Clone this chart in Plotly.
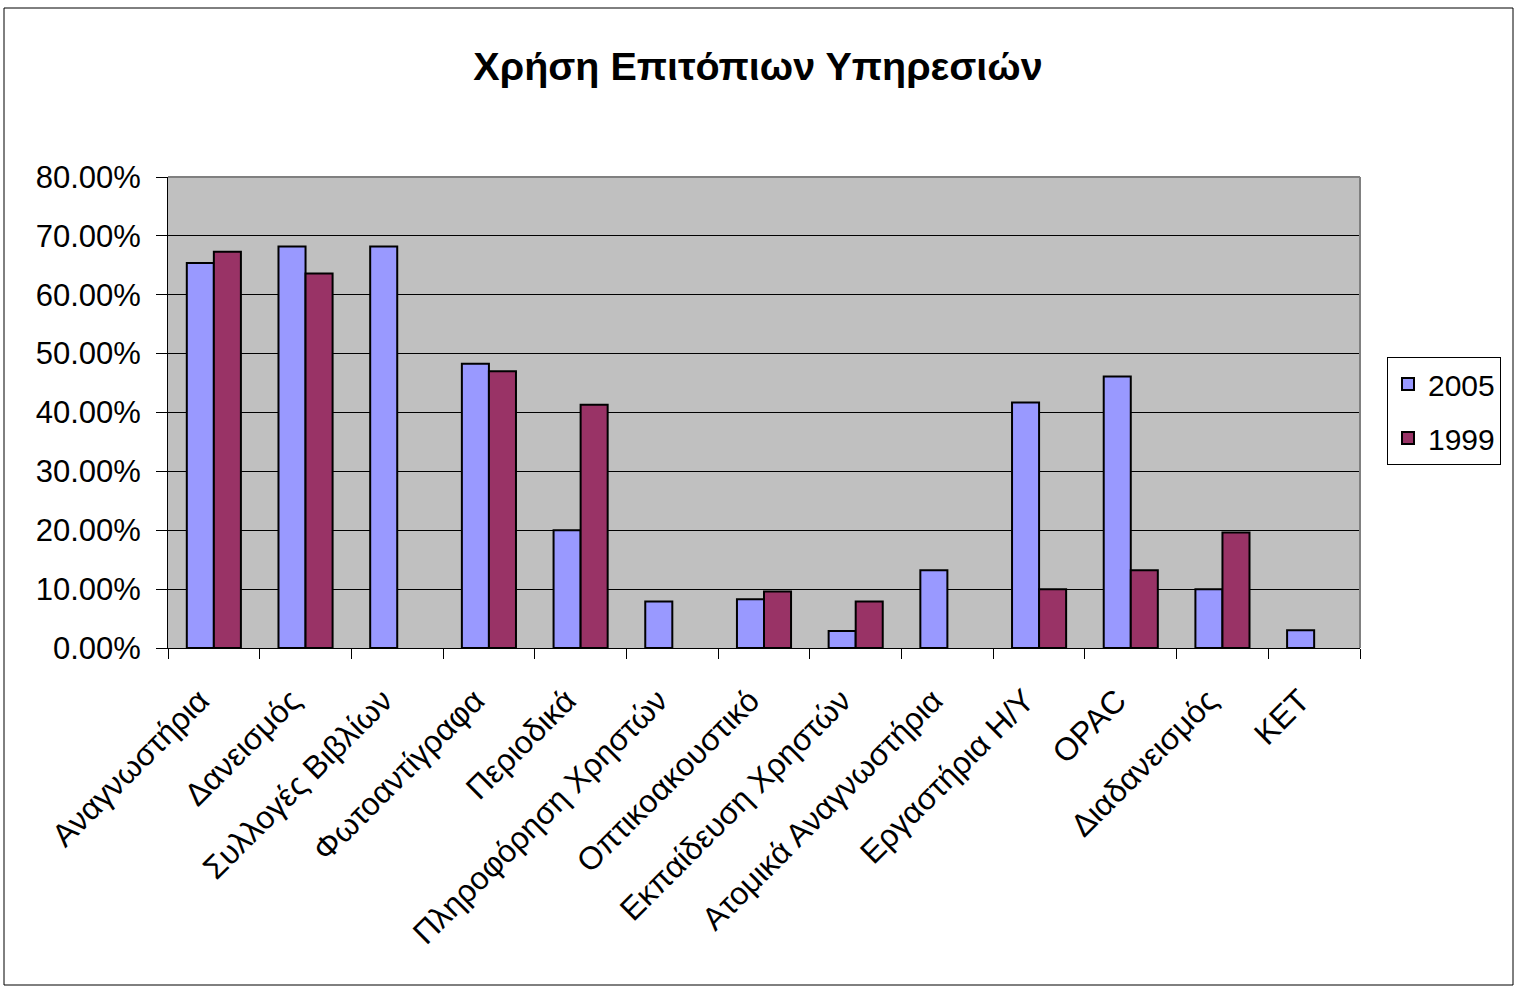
import plotly.graph_objects as go

categories = ["Αναγνωστήρια", "Δανεισμός", "Συλλογές Βιβλίων", "Φωτοαντίγραφα", "Περιοδικά",
              "Πληροφόρηση Χρηστών", "Οπτικοακουστικό", "Εκπαίδευση Χρηστών",
              "Ατομικά Αναγνωστήρια", "Εργαστήρια Η/Υ", "OPAC", "Διαδανεισμός", "ΚΕΤ"]
values_2005 = [0.654, 0.682, 0.682, 0.483, 0.200, 0.079, 0.083, 0.029, 0.132, 0.417, 0.461, 0.100, 0.030]
values_1999 = [0.673, 0.636, None, 0.470, 0.413, None, 0.096, 0.079, None, 0.100, 0.132, 0.196, None]
y_ticks = [0, 0.1, 0.2, 0.3, 0.4, 0.5, 0.6, 0.7, 0.8]
title_text = "Χρήση Επιτόπιων Υπηρεσιών"

FONT = "Liberation Sans, Arial, sans-serif"
W, H = 1514, 986
L, R, T, B = 168, 154, 177, 338
pw, ph = W - L - R, H - T - B

fig = go.Figure()
fig.add_trace(go.Bar(x=categories, y=values_2005, name="2005", legendgroup="a",
                     marker=dict(color="#9999FF", line=dict(color="black", width=2))))
fig.add_trace(go.Bar(x=categories, y=values_1999, name="1999", legendgroup="b",
                     marker=dict(color="#993366", line=dict(color="black", width=2))))

def px2x(px):
    return (px - L) / pw

def px2y(py):
    return (H - B - py) / ph

shapes = [
    # outer chart border
    dict(type="rect", xref="paper", yref="paper", x0=px2x(4), x1=px2x(1513), y0=px2y(985), y1=px2y(8),
         line=dict(color="black", width=1), layer="above"),
    # plot area top/right border
    dict(type="line", xref="paper", yref="paper", x0=0, x1=1, y0=1, y1=1,
         line=dict(color="#808080", width=2), layer="above"),
    dict(type="line", xref="paper", yref="paper", x0=1, x1=1, y0=0, y1=1,
         line=dict(color="#808080", width=2), layer="above"),
]

fig.update_layout(
    width=W, height=H,
    margin=dict(l=L, r=R, t=T, b=B, pad=0),
    paper_bgcolor="white", plot_bgcolor="#C0C0C0",
    barmode="group", bargap=0.41, bargroupgap=0.0,
    font=dict(family=FONT, size=30, color="black"),
    title=dict(text="<b>" + title_text + "</b>", x=758 / W, y=1 - 66 / H, xref="container", yref="container",
               xanchor="center", yanchor="middle", font=dict(family=FONT, size=39.5, color="black")),
    legend=dict(x=px2x(1387), y=px2y(357), xanchor="left", yanchor="top", bgcolor="white",
                bordercolor="black", borderwidth=1, font=dict(family=FONT, size=30),
                traceorder="grouped", tracegroupgap=12),
    shapes=shapes,
    xaxis=dict(type="category", tickangle=-45, tickson="boundaries", ticks="outside", ticklen=10,
               tickcolor="black", tickwidth=1, showline=True, linecolor="black", linewidth=1,
               showgrid=False, automargin=False, dtick=1, tickfont=dict(family=FONT, size=32),
               ticklabelstandoff=20, ticklabelshift=-14),
    yaxis=dict(range=[0, 0.8], tickvals=y_ticks, tickformat=".2%", ticks="outside", ticklen=11,
               tickcolor="black", showline=True, linecolor="black", linewidth=1, showgrid=True,
               gridcolor="black", gridwidth=1, zeroline=False, automargin=False,
               ticklabelstandoff=9, tickfont=dict(family=FONT, size=31)),
)

fig.write_html("out.html", config={"displayModeBar": False},
               post_script="document.body.style.margin='0';")
